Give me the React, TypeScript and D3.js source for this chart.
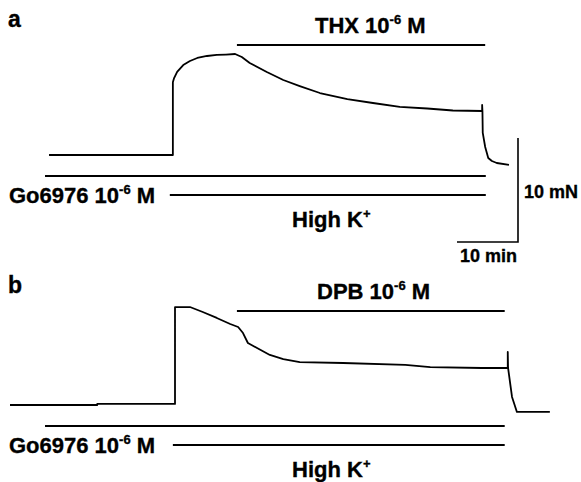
import React, { useEffect, useRef } from "react";
import * as d3 from "d3";

// time in min, force in mN (relative to resting tension)
const traceA: [number, number][] = [
  [6.4, 0], [26.7, 0], [26.7, 7.0], [26.9, 7.4], [27.4, 8.0], [28.4, 8.65],
  [29.5, 9.04], [30.7, 9.33], [32.3, 9.52], [33.9, 9.62], [35.4, 9.66], [36.9, 9.71],
  [38.0, 9.42], [39.3, 8.85], [42.1, 7.98], [44.8, 7.21], [47.5, 6.63], [50.8, 5.96],
  [55.3, 5.38], [59.5, 5.0], [63.9, 4.62], [68.4, 4.47], [72.6, 4.28], [77.4, 4.23],
  [77.4, 4.81], [77.45, 4.23], [77.5, 2.12], [77.9, 0.77], [78.4, -0.29], [79.0, -0.58],
  [79.8, -0.77], [81.8, -0.96],
];

const traceB: [number, number][] = [
  [0, 0], [14.3, 0], [14.3, 0.1], [27.05, 0.1], [27.05, 9.42], [29.5, 9.42],
  [31.6, 8.94], [33.9, 8.37], [36.1, 7.79], [37.4, 7.5], [38.2, 6.92], [39.0, 5.96],
  [40.5, 5.48], [42.6, 4.81], [44.8, 4.42], [47.5, 4.13], [54.6, 4.04], [64.8, 3.85],
  [68.9, 3.65], [77.4, 3.56], [81.6, 3.56], [81.6, 5.1], [81.65, 3.56], [82.3, 0.77],
  [83.1, -0.67], [88.5, -0.67],
];

// drug application periods [start, end] in min
const drugA = { label: "THX", span: [37.2, 77.9] };
const drugB = { label: "DPB", span: [37.2, 81.1] };
const goSpans = [[5.74, 78.0], [5.74, 81.1]];
const highKSpans = [[26.2, 78.0], [26.7, 81.1]];

const panelLabels = ["a", "b"];
const scaleBar = { min: 10, mN: 10 };

const FONT = "'Liberation Sans', Arial, sans-serif";

export default function App() {
  const ref = useRef<SVGSVGElement>(null);

  useEffect(() => {
    const svg = d3.select(ref.current);
    svg.selectAll("*").remove();

    // 10 min = 61 px, 10 mN = 104 px
    const x = d3.scaleLinear().domain([0, 10]).range([10, 71]);

    const label = (sel: any, px: number, py: number, size: number) =>
      sel.append("text")
        .attr("x", px).attr("y", py)
        .attr("font-family", FONT).attr("font-weight", "bold").attr("font-size", size)
        .attr("stroke", "#000").attr("stroke-width", 0.35);

    const panels = [
      { trace: traceA, drug: drugA, go: goSpans[0], hk: highKSpans[0], base: 155, top: 0, low: 0 },
      { trace: traceB, drug: drugB, go: goSpans[1], hk: highKSpans[1], base: 405, top: 266, low: 250 },
    ];

    panels.forEach((p, i) => {
      const y = d3.scaleLinear().domain([0, 10]).range([p.base, p.base - 104]);
      const g = svg.append("g");

      label(g, 8, 27 + p.top, 23).text(panelLabels[i]);

      const line = d3.line<[number, number]>().x(d => x(d[0])).y(d => y(d[1]));
      g.append("path")
        .attr("d", line(p.trace))
        .attr("fill", "none").attr("stroke", "#000").attr("stroke-width", 1.8)
        .attr("stroke-linejoin", "round");

      // drug bar + label
      g.append("line")
        .attr("x1", x(p.drug.span[0])).attr("x2", x(p.drug.span[1]))
        .attr("y1", 45 + p.top).attr("y2", 45 + p.top)
        .attr("stroke", "#000").attr("stroke-width", 2);
      const dt = label(g, 315 + i * 2, 33 + p.top, 22);
      dt.append("tspan").text(p.drug.label + " 10");
      dt.append("tspan").attr("dy", -9).attr("font-size", 13).text("-6");
      dt.append("tspan").attr("dy", 9).text(" M");

      // Go6976 bar
      g.append("line")
        .attr("x1", x(p.go[0])).attr("x2", x(p.go[1]))
        .attr("y1", 176 + p.low).attr("y2", 176 + p.low)
        .attr("stroke", "#000").attr("stroke-width", 2);
      const gt = label(g, 9, 203 + p.low, 22);
      gt.append("tspan").text("Go6976 10");
      gt.append("tspan").attr("dy", -9).attr("font-size", 13).text("-6");
      gt.append("tspan").attr("dy", 9).text(" M");

      // High K+ bar
      g.append("line")
        .attr("x1", x(p.hk[0])).attr("x2", x(p.hk[1]))
        .attr("y1", 195 + p.low).attr("y2", 195 + p.low)
        .attr("stroke", "#000").attr("stroke-width", 2);
      const ht = label(g, 292, 227 + p.low, 22);
      ht.append("tspan").text("High K");
      ht.append("tspan").attr("dy", -9).attr("font-size", 13).text("+");
    });

    // scale bar
    const sx0 = 518, sy0 = 242;
    const yb = d3.scaleLinear().domain([0, 10]).range([sy0, sy0 - 104]);
    const xb = x(scaleBar.min) - x(0);
    svg.append("path")
      .attr("d", `M${sx0 - xb},${sy0}H${sx0}V${yb(scaleBar.mN)}`)
      .attr("fill", "none").attr("stroke", "#000").attr("stroke-width", 1.6);
    label(svg, 524, 198, 18).text(`${scaleBar.mN} mN`);
    label(svg, 460, 262, 18).text(`${scaleBar.min} min`);
  }, []);

  return (
    <svg ref={ref} width={581} height={482}
      style={{ position: "absolute", left: 0, top: 0, background: "#fff" }} />
  );
}
